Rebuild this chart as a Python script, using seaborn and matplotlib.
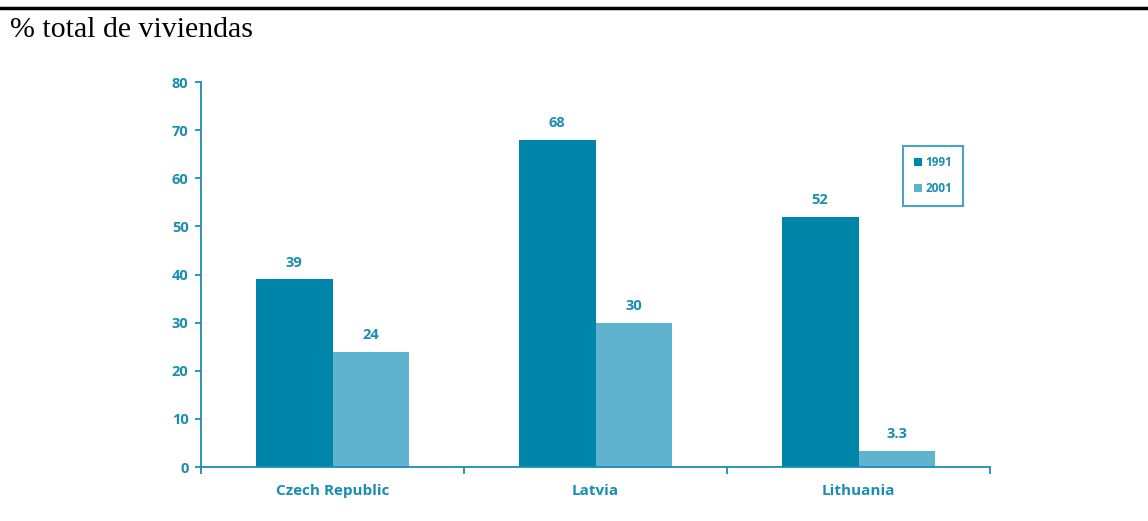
import matplotlib
matplotlib.use("Agg")
import matplotlib.pyplot as plt
import seaborn as sns
import pandas as pd
from matplotlib.ticker import FixedLocator

countries = ["Czech Republic", "Latvia", "Lithuania"]
years = ["1991", "2001"]
values_1991 = [39, 68, 52]
values_2001 = [24, 30, 3.3]
yticks = [0, 10, 20, 30, 40, 50, 60, 70, 80]
title = "% total de viviendas"

df = pd.DataFrame({
    "country": countries * 2,
    "year": [years[0]] * 3 + [years[1]] * 3,
    "value": values_1991 + values_2001,
})

sns.set_theme(style="white")
plt.rcParams["font.family"] = ["Open Sans", "DejaVu Sans"]

teal = "#1a8db3"
dark = "#0085aa"
light = "#5fb3cf"

fig = plt.figure(figsize=(11.48, 5.21), dpi=100)
ax = fig.add_axes([0.1751, 0.1036, 0.6873, 0.739])

sns.barplot(data=df, x="country", y="value", hue="year", palette=[dark, light],
            width=0.585, ax=ax, linewidth=0, saturation=1)

for cont in ax.containers:
    ax.bar_label(cont, labels=[f"{v:g}" for v in cont.datavalues], padding=7,
                 color=teal, fontsize=10.5, fontweight="bold")

ax.set_xlim(-0.5, 2.5)
ax.set_ylim(0, 80)
ax.set_yticks(yticks)
ax.set_xlabel("")
ax.set_ylabel("")
for s in ["top", "right"]:
    ax.spines[s].set_visible(False)
for s in ["left", "bottom"]:
    ax.spines[s].set_color(teal)
    ax.spines[s].set_linewidth(1.3)

ax.tick_params(axis="y", which="major", left=True, length=4, width=1.3, color=teal,
               labelcolor=teal, labelsize=10.5, pad=5)
ax.tick_params(axis="x", which="major", bottom=False, length=0, labelcolor=teal,
               labelsize=11, pad=12)
ax.xaxis.set_minor_locator(FixedLocator([-0.5, 0.5, 1.5, 2.5]))
ax.tick_params(axis="x", which="minor", bottom=True, length=5, width=1.3, color=teal)
for lab in ax.get_yticklabels() + ax.get_xticklabels():
    lab.set_fontweight("bold")

leg = ax.legend(loc="upper left", bbox_to_anchor=(0.8825, 0.85), frameon=True,
                fancybox=False, fontsize=8.5, handlelength=0.7, handleheight=0.7,
                handletextpad=0.3, borderpad=0.9, labelspacing=1.1,
                labelcolor=teal, title=None)
leg.get_frame().set_edgecolor(teal)
leg.get_frame().set_linewidth(1.5)
for t in leg.get_texts():
    t.set_fontweight("bold")

fig.add_artist(plt.Line2D([0, 1], [0.984, 0.984], color="black", linewidth=2.5,
                          transform=fig.transFigure))
fig.text(10 / 1148, 1 - 30 / 521, title, family="Liberation Serif", fontsize=21.5,
         color="black", va="center", ha="left")

fig.savefig("out.png", dpi=100, facecolor="white")
